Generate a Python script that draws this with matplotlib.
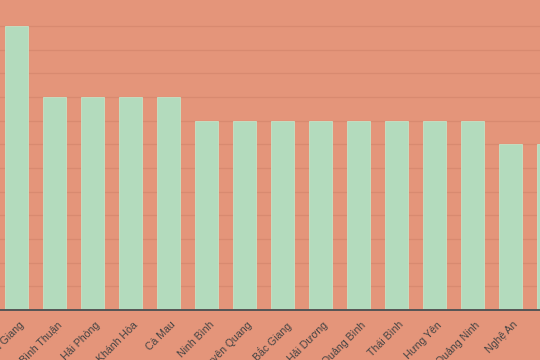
import numpy as np
import matplotlib
matplotlib.use("Agg")
import matplotlib.pyplot as plt

# provinces shown (chart is cropped at both ends)
provinces = ["An Giang", "Bình Thuận", "Hải Phòng", "Khánh Hòa", "Cà Mau",
             "Ninh Bình", "Tuyên Quang", "Bắc Giang", "Hải Dương", "Quảng Bình",
             "Thái Bình", "Hưng Yên", "Quảng Ninh", "Nghệ An", "Nam Định"]
values = [12, 9, 9, 9, 9, 8, 8, 8, 8, 8, 8, 8, 8, 7, 7]

bg = "#E4957A"
bar_col = "#B3DBBD"
grid_col = "#D88A70"

plt.rcParams['font.family'] = ['Liberation Sans', 'DejaVu Sans']

fig = plt.figure(figsize=(5.4, 3.6), dpi=100)
fig.patch.set_facecolor(bg)
ax = fig.add_axes([0, 50/360, 1, 310/360])
ax.set_facecolor(bg)

x = np.arange(len(provinces))
ax.bar(x, values, width=0.62, color=bar_col, edgecolor="#C6E3C6", linewidth=0.6, zorder=3)

ax.set_yticks(np.arange(1, 13))
ax.yaxis.grid(True, color=grid_col, linewidth=0.9, zorder=0)
ax.tick_params(axis='y', left=False, labelleft=False)
ax.tick_params(axis='x', length=0, pad=7)
ax.set_xticks(x + 0.06)
ax.set_xticklabels(provinces, rotation=45, ha='right', rotation_mode='anchor',
                   fontsize=7.6, color="#444444")
ax.set_xlim(-0.434, 13.776)
ax.set_ylim(0, 13.1)

for s in ["top", "left", "right"]:
    ax.spines[s].set_visible(False)
ax.spines["bottom"].set_color("#555555")
ax.spines["bottom"].set_linewidth(1.4)
ax.spines["bottom"].set_zorder(4)

fig.savefig("out.png", dpi=100, facecolor=bg)
